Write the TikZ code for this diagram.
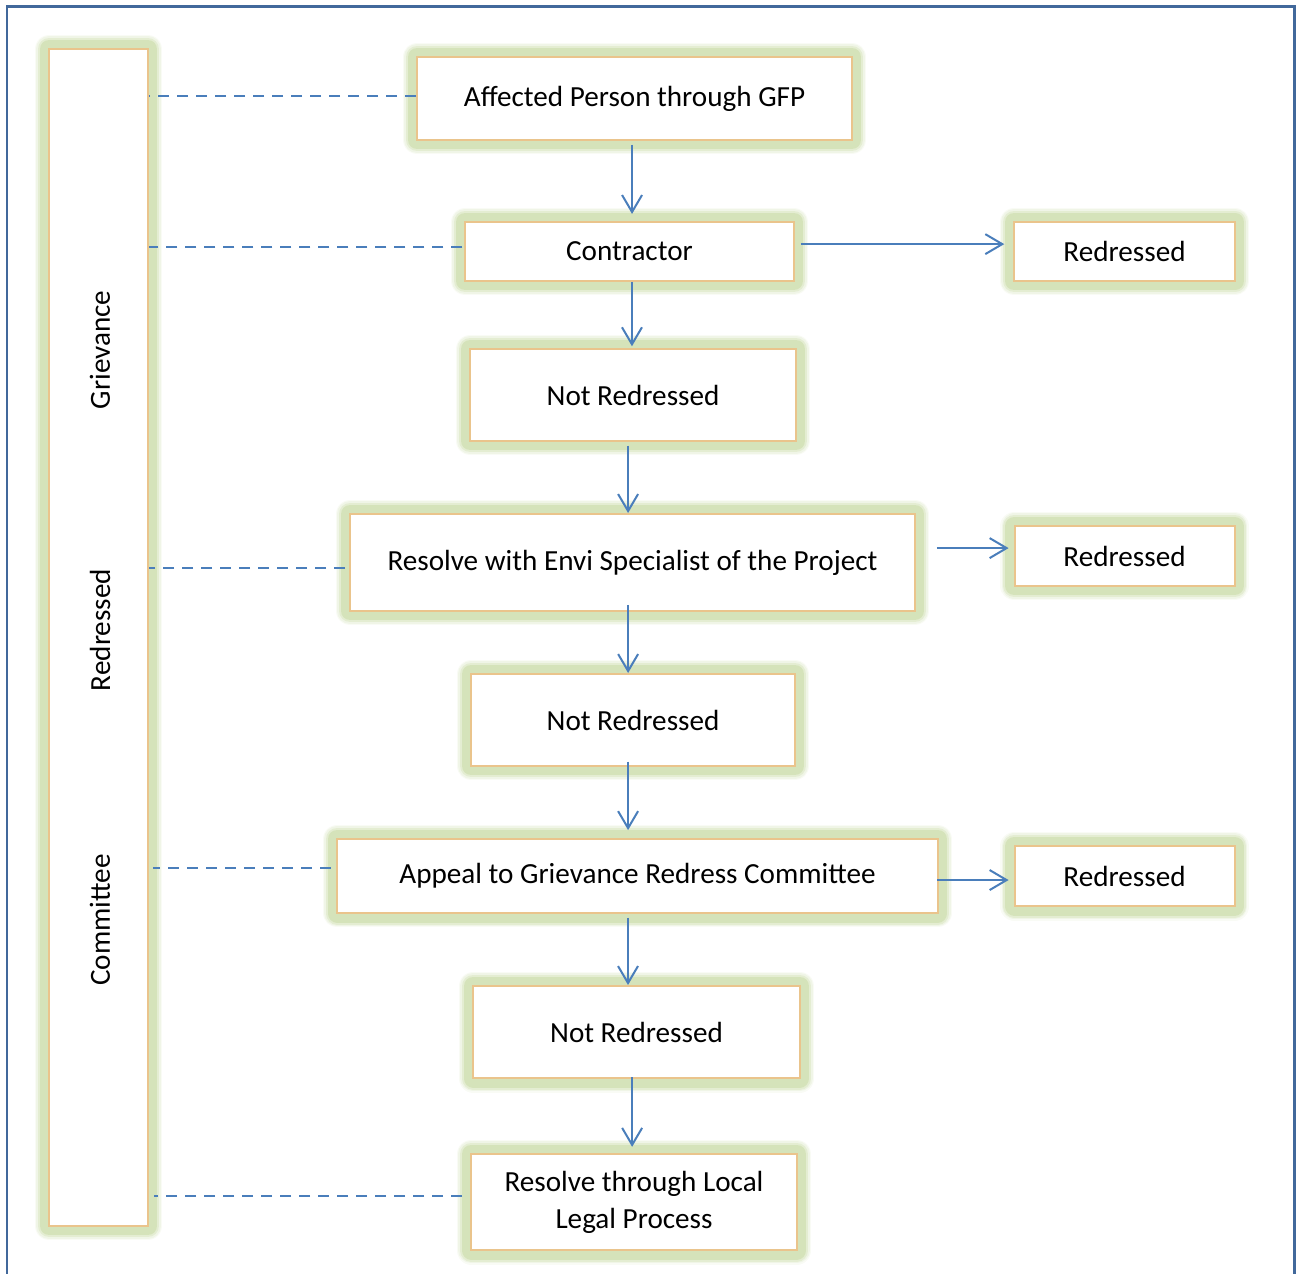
\documentclass[tikz,border=0pt]{standalone}
\usepackage{fontspec}
\setmainfont{Carlito}
\usetikzlibrary{
  arrows.meta,
  positioning
}
\definecolor{glowgreen}{HTML}{D5E3BA}
\definecolor{boxedge}{HTML}{EAC48C}
\definecolor{linkblue}{HTML}{4A7EBB}
\definecolor{frameblue}{HTML}{41689B}
\tikzset{
%
  % For the outer frame.
  frame/.style={
    frameblue,
    line width=0.06cm},
%
  % For boxes in general, with their soft green glow.
  box/.style={
    draw=boxedge,
    fill=white,
    line width=0.04cm,
    inner sep=0pt,
    align=center,
    preaction={draw=glowgreen!15,
               line width=0.58cm,
               line join=round},
    preaction={draw=glowgreen!35,
               line width=0.52cm,
               line join=round},
    preaction={draw=glowgreen!65,
               line width=0.46cm,
               line join=round},
    preaction={draw=glowgreen,
               line width=0.38cm,
               line join=round}},
%
  % For the arrows of the flow.
  arrow/.style={
    linkblue,
    line width=0.04cm,
    -{Straight Barb[length=0.34cm,
                    width=0.4cm]}},
%
  % For the dashed links to the side box.
  link/.style={
    linkblue,
    line width=0.045cm,
    dash pattern=on 0.22cm off 0.16cm}
}

\begin{document}
\begin{tikzpicture}[x=0.02cm, y=-0.02cm,
                    font=\fontsize{16.6}{21}\selectfont]
  \useasboundingbox (0,0) rectangle (1300,1273);
  \draw[frame] (7,1280) -- (7,7) -- (1294,7) -- (1294,1280);

  \node[box, minimum width=1.98cm, minimum height=23.54cm]
    (S) at (98.5,637.5) {};
  \node[rotate=90] (S1) at (100,350) {Grievance};
  \node[rotate=90] (S2) at (100,630) {Redressed};
  \node[rotate=90] (S3) at (100,920) {Committee};

  \node[box, minimum width=8.7cm, minimum height=1.66cm]
    (AP) at (634.5,98.5) {Affected Person through GFP};
  \node[box, minimum width=6.58cm, minimum height=1.18cm]
    (C) at (629.5,251.5) {Contractor};
  \node[box, minimum width=4.42cm, minimum height=1.18cm]
    (R1) at (1124.5,251.5) {Redressed};
  \node[box, minimum width=6.52cm, minimum height=1.84cm]
    (NR1) at (633,395) {Not Redressed};
  \node[box, minimum width=11.3cm, minimum height=1.94cm]
    (E) at (632.5,562.5) {Resolve with Envi Specialist of the Project};
  \node[box, minimum width=4.4cm, minimum height=1.2cm]
    (R2) at (1124.5,556) {Redressed};
  \node[box, minimum width=6.48cm, minimum height=1.84cm]
    (NR2) at (633,720) {Not Redressed};
  \node[box, minimum width=12.02cm, minimum height=1.48cm]
    (A) at (637.5,876) {Appeal to Grievance Redress Committee};
  \node[box, minimum width=4.4cm, minimum height=1.2cm]
    (R3) at (1124.5,876) {Redressed};
  \node[box, minimum width=6.54cm, minimum height=1.84cm]
    (NR3) at (636.5,1032) {Not Redressed};
  \node[box, minimum width=6.52cm, minimum height=1.92cm]
    (L) at (634,1202) {Resolve through Local\\Legal Process};

  % flow downwards
  \draw[arrow, shorten <=2pt, shorten >=4pt]
    ([xshift=-1.4pt]AP.south) -- ([xshift=-1.4pt]AP.south |- C.north);
  \draw[arrow, shorten >=1pt]
    ([xshift=1.4pt]C.south) -- ([xshift=1.4pt]C.south |- NR1.north);
  \draw[arrow, shorten <=2pt]
    ([xshift=-2.8pt]NR1.south) -- ([xshift=-2.8pt]NR1.south |- E.north);
  \draw[arrow, shorten <=-4pt]
    ([xshift=-2.5pt]E.south) -- ([xshift=-2.5pt]E.south |- NR2.north);
  \draw[arrow, shorten <=-3pt, shorten >=4.5pt]
    ([xshift=-2.8pt]NR2.south) -- ([xshift=-2.8pt]NR2.south |- A.north);
  \draw[arrow, shorten <=2pt]
    ([xshift=-5.4pt]A.south) -- ([xshift=-5.4pt]A.south |- NR3.north);
  \draw[arrow, shorten <=-1pt, shorten >=3.5pt]
    ([xshift=-2.5pt]NR3.south) -- ([xshift=-2.5pt]NR3.south |- L.north);

  % flow to the right
  \draw[arrow, shorten <=3.4pt, shorten >=5pt]
    ([yshift=4.2pt]C.east) -- ([yshift=4.2pt]C.east -| R1.west);
  \draw[arrow, shorten <=11.9pt, shorten >=2.8pt]
    ([yshift=8.2pt]E.east) -- ([yshift=8.2pt]E.east -| R2.west);
  \draw[arrow, shorten <=-1pt, shorten >=2.8pt]
    ([yshift=-2.3pt]A.east) -- ([yshift=-2.3pt]A.east -| R3.west);

  % links to the side box
  \draw[link]
    ([yshift=1.4pt]AP.west) -- ([yshift=1.4pt]AP.west -| S.east);
  \draw[link, shorten <=1pt]
    ([yshift=2.5pt]C.west) -- ([yshift=2.5pt]C.west -| S.east);
  \draw[link, shorten <=2.2pt]
    ([yshift=-3.1pt]E.west) -- ([yshift=-3.1pt]E.west -| S.east);
  \draw[link, shorten <=3pt, shorten >=2.2pt]
    ([yshift=4.5pt]A.west) -- ([yshift=4.5pt]A.west -| S.east);
  \draw[link, shorten <=4.5pt, shorten >=2.8pt]
    ([yshift=3.4pt]L.west) -- ([yshift=3.4pt]L.west -| S.east);
\end{tikzpicture}
\end{document}
